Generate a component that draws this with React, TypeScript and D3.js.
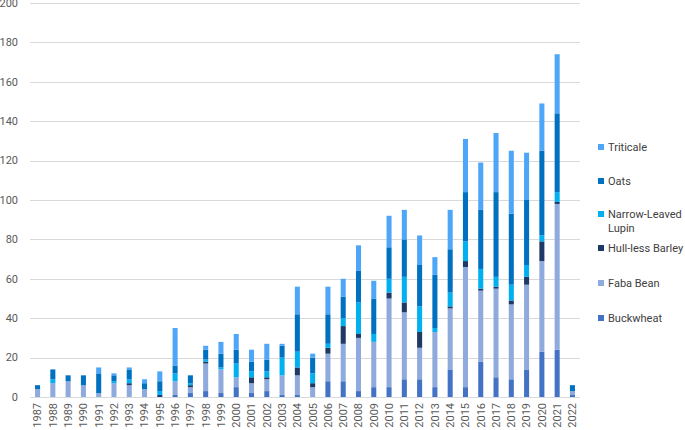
import React, { useRef, useEffect } from 'react';
import * as d3 from 'd3';

const years = d3.range(1987, 2023).map(String);

// stacked bottom → top
const buckwheat = [0, 0, 0, 0, 0, 0, 0, 0, 0, 1, 2, 3, 2, 5, 2, 3, 1, 1, 0, 8, 8, 3, 5, 5, 9, 9, 5, 14, 5, 18, 10, 9, 14, 23, 24, 1];
const fabaBean = [4, 7, 8, 6, 2, 7, 6, 4, 0, 7, 3, 14, 12, 5, 5, 6, 10, 10, 5, 14, 19, 27, 23, 45, 34, 16, 28, 31, 61, 36, 45, 38, 43, 46, 74, 2];
const hullBarley = [0, 0, 0, 0, 0, 0, 1, 0, 1, 0, 1, 1, 0, 0, 3, 1, 0, 4, 2, 3, 9, 2, 0, 3, 5, 8, 0, 1, 3, 1, 1, 2, 4, 10, 1, 0];
const lupin = [0, 2, 0, 0, 0, 1, 2, 0, 2, 4, 1, 1, 1, 7, 3, 3, 9, 8, 5, 2, 4, 16, 4, 7, 13, 13, 2, 7, 10, 10, 5, 8, 6, 3, 5, 0];
const oats = [2, 5, 3, 5, 10, 3, 5, 3, 5, 4, 4, 5, 7, 7, 5, 6, 6, 19, 8, 15, 11, 16, 18, 16, 19, 21, 27, 22, 25, 30, 43, 36, 33, 43, 40, 3];
const triticale = [0, 0, 0, 0, 3, 1, 1, 2, 5, 19, 0, 2, 6, 8, 6, 8, 1, 14, 2, 14, 9, 13, 9, 16, 15, 15, 9, 20, 27, 24, 30, 32, 24, 24, 30, 0];

const seriesNames = ['Buckwheat', 'Faba Bean', 'Hull-less Barley', 'Narrow-Leaved Lupin', 'Oats', 'Triticale'];
const seriesValues = [buckwheat, fabaBean, hullBarley, lupin, oats, triticale];
const colors = ['#4472C4', '#8FAADC', '#1F3864', '#00B0F0', '#0070C0', '#4DA6F7'];
const yTicks = [0, 20, 40, 60, 80, 100, 120, 140, 160, 180, 200];

export default function App() {
  const svgRef = useRef<SVGSVGElement>(null);

  useEffect(() => {
    document.body.style.margin = '0';
    if (!svgRef.current) return;
    const svg = d3.select(svgRef.current);
    svg.selectAll('*').remove();

    const margin = { top: 3, left: 30, right: 105, bottom: 33 };
    const width = 685;
    const height = 430;
    const plotW = width - margin.left - margin.right;
    const plotH = height - margin.top - margin.bottom;

    const rows = years.map((y, i) => {
      const r: any = { year: y };
      seriesNames.forEach((s, k) => { r[s] = seriesValues[k][i]; });
      return r;
    });
    const stacked = d3.stack().keys(seriesNames)(rows);

    const x = d3.scaleBand().domain(years).range([0, plotW]).paddingInner(0.67).paddingOuter(0.33);
    const y = d3.scaleLinear().domain([0, 200]).range([plotH, 0]);

    const g = svg.append('g').attr('transform', `translate(${margin.left},${margin.top})`);

    // gridlines
    g.append('g')
      .selectAll('line')
      .data(yTicks)
      .join('line')
      .attr('x1', 0)
      .attr('x2', plotW)
      .attr('y1', d => Math.round(y(d)) + 0.5)
      .attr('y2', d => Math.round(y(d)) + 0.5)
      .attr('stroke', '#d9d9d9')
      .attr('stroke-width', 1);

    // y tick labels
    g.append('g')
      .selectAll('text')
      .data(yTicks)
      .join('text')
      .attr('x', -12)
      .attr('y', d => y(d))
      .attr('dy', '0.35em')
      .attr('text-anchor', 'end')
      .attr('fill', '#595959')
      .attr('font-size', 11)
      .text(d => d);

    // bars
    g.append('g')
      .selectAll('g')
      .data(stacked)
      .join('g')
      .attr('fill', (_, i) => colors[i])
      .selectAll('rect')
      .data(d => d)
      .join('rect')
      .attr('x', d => x(d.data.year as any)!)
      .attr('width', x.bandwidth())
      .attr('y', d => y(d[1]))
      .attr('height', d => y(d[0]) - y(d[1]));

    // x labels
    g.append('g')
      .selectAll('text')
      .data(years)
      .join('text')
      .attr('transform', d => `translate(${x(d)! + x.bandwidth() / 2},${plotH + 6}) rotate(-90)`)
      .attr('text-anchor', 'end')
      .attr('dy', '0.35em')
      .attr('fill', '#595959')
      .attr('font-size', 11)
      .text(d => d);

    // legend
    const legendY = [147, 181, 214, 248, 283, 318];
    const legend = svg.append('g');
    const order = [5, 4, 3, 2, 1, 0];
    order.forEach((k, i) => {
      const lg = legend.append('g').attr('transform', `translate(598,${legendY[i]})`);
      lg.append('rect').attr('x', 0).attr('y', -3).attr('width', 6).attr('height', 6).attr('fill', colors[k]);
      const t = lg.append('text')
        .attr('x', 10)
        .attr('y', 0)
        .attr('dy', '0.35em')
        .attr('fill', '#404040')
        .attr('font-size', 11);
      if (k === 3) {
        t.append('tspan').attr('x', 10).text('Narrow-Leaved');
        t.append('tspan').attr('x', 10).attr('dy', 14).text('Lupin');
      } else {
        t.text(seriesNames[k]);
      }
    });
  }, []);

  return (
    <svg ref={svgRef} width={685} height={430} style={{ display: 'block', fontFamily: 'Roboto, sans-serif', background: '#fff' }} />
  );
}
